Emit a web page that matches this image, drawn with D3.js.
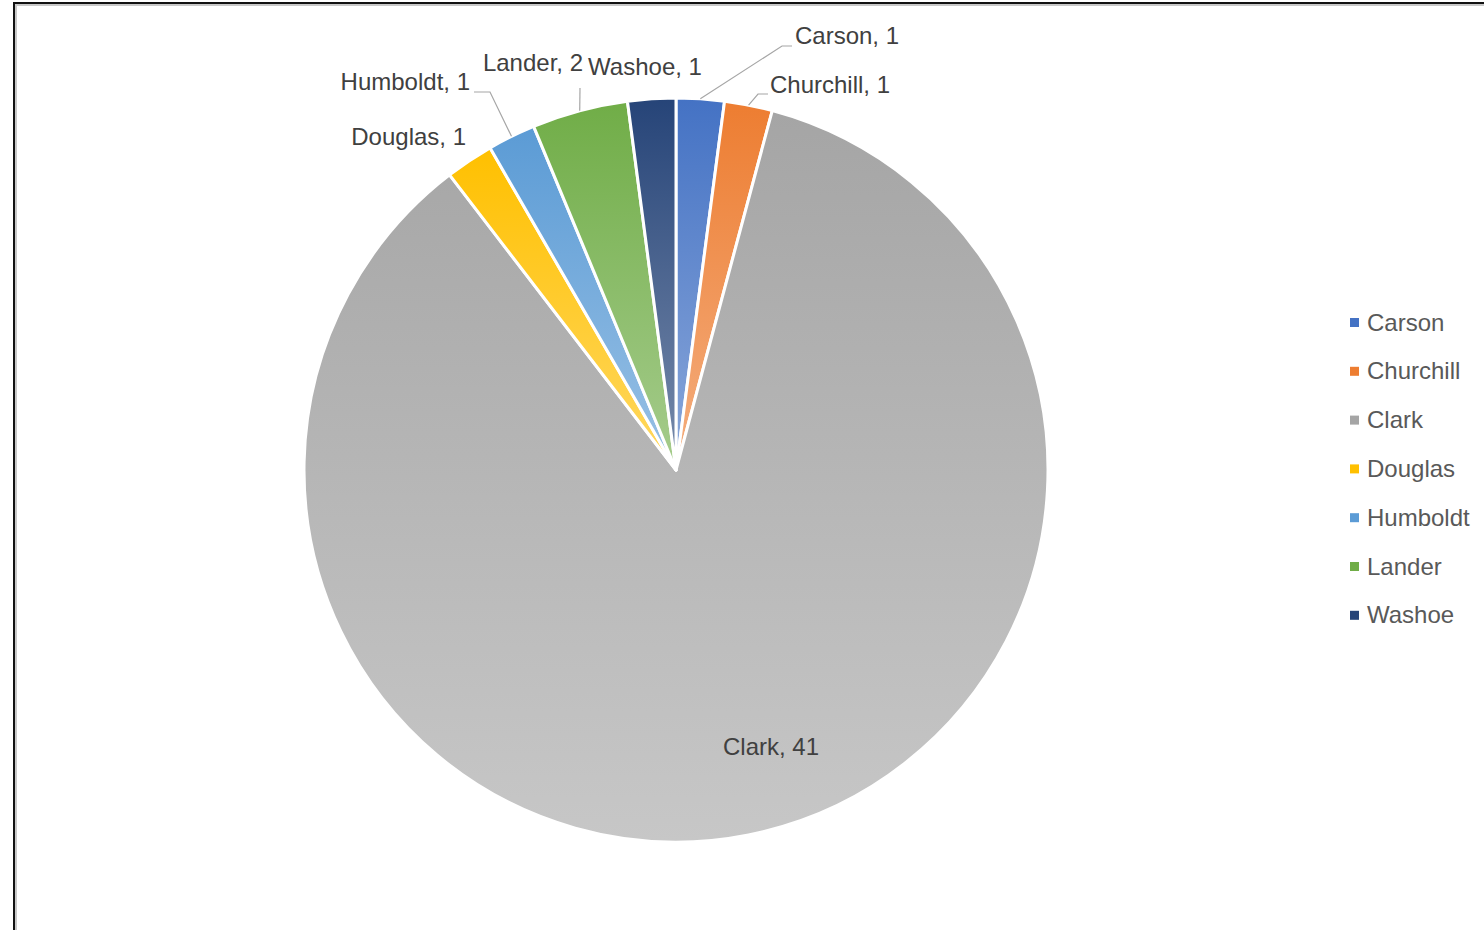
<!DOCTYPE html>
<html>
<head>
<meta charset="utf-8">
<script src="https://cdn.jsdelivr.net/npm/d3@7"></script>
<style>
  html, body { margin: 0; padding: 0; background: #ffffff; }
  svg { display: block; }
  text { font-family: "Liberation Sans", Arial, sans-serif; }
</style>
</head>
<body>
<svg id="chart" width="1484" height="930"></svg>
<script>
// County counts
const counties = ["Carson", "Churchill", "Clark", "Douglas", "Humboldt", "Lander", "Washoe"];
const counts   = [1, 1, 41, 1, 1, 2, 1];
const palette  = ["#4472c4", "#ed7d31", "#a5a5a5", "#ffc000", "#5b9bd5", "#70ad47", "#264478"];

// Label placement relative to the pie centre: offset, anchor, and optional leader-line bends
const labelLayout = {
  Carson:    { dx: 119,  dy: -426, anchor: "start", elbow: [106, -424], end: [116, -424] },
  Churchill: { dx: 94,   dy: -377, anchor: "start", elbow: [82, -376],  end: [92, -376] },
  Clark:     { dx: 95,   dy: 285,  anchor: "middle", elbow: null },
  Douglas:   { dx: -210, dy: -325, anchor: "end",   elbow: null },
  Humboldt:  { dx: -206, dy: -380, anchor: "end",   elbow: [-186, -378], end: [-202, -378] },
  Lander:    { dx: -93,  dy: -399, anchor: "end",   elbow: [-96, -382],  end: [-96, -382] },
  Washoe:    { dx: -31,  dy: -395, anchor: "middle", elbow: null }
};

const svg = d3.select("#chart");
const cx = 676, cy = 470, radius = 372;

// Frame of the chart area
svg.append("path")
  .attr("d", "M1490,5 H16 V935")
  .attr("fill", "none").attr("stroke", "#c8c8c8").attr("stroke-width", 2);
svg.append("path")
  .attr("d", "M1490,3 H14 V935")
  .attr("fill", "none").attr("stroke", "#111111").attr("stroke-width", 2);

const data = counties.map((name, i) => ({ name, value: counts[i], color: palette[i] }));

// Vertical gradient per slice: base colour at top fading to a lighter tint
const defs = svg.append("defs");
data.forEach((d, i) => {
  const g = defs.append("linearGradient")
    .attr("id", "grad" + i)
    .attr("x1", 0).attr("y1", 0).attr("x2", 0).attr("y2", 1);
  g.append("stop").attr("offset", "0%").attr("stop-color", d.color);
  g.append("stop").attr("offset", "100%").attr("stop-color", d3.interpolateRgb(d.color, "#ffffff")(0.38));
});

const pie = d3.pie().value(d => d.value).sort(null);
const arc = d3.arc().innerRadius(0).outerRadius(radius);
const arcs = pie(data);

const g = svg.append("g").attr("transform", `translate(${cx},${cy})`);

g.selectAll("path.slice")
  .data(arcs)
  .join("path")
  .attr("class", "slice")
  .attr("d", arc)
  .attr("fill", (d, i) => `url(#grad${i})`)
  .attr("stroke", "#ffffff")
  .attr("stroke-width", 3)
  .attr("stroke-linejoin", "round");

// Leader lines from the outer edge of a slice to its label
const edgeArc = d3.arc().innerRadius(radius).outerRadius(radius);
arcs.forEach(a => {
  const L = labelLayout[a.data.name];
  if (!L.elbow) return;
  const p0 = edgeArc.centroid(a);
  g.append("polyline")
    .attr("points", [p0, L.elbow, L.end].map(p => p.join(",")).join(" "))
    .attr("fill", "none")
    .attr("stroke", "#a6a6a6")
    .attr("stroke-width", 1.2);
});

// Data labels
g.selectAll("text.dlabel")
  .data(arcs)
  .join("text")
  .attr("class", "dlabel")
  .attr("x", d => labelLayout[d.data.name].dx)
  .attr("y", d => labelLayout[d.data.name].dy)
  .attr("text-anchor", d => labelLayout[d.data.name].anchor)
  .attr("font-size", 24)
  .attr("fill", "#404040")
  .text(d => `${d.data.name}, ${d.data.value}`);

// Legend
const legend = svg.append("g").attr("transform", "translate(1350,322)");
const rows = legend.selectAll("g")
  .data(data)
  .join("g")
  .attr("transform", (d, i) => `translate(0,${i * 48.8})`);
rows.append("rect")
  .attr("x", 0).attr("y", -4).attr("width", 9).attr("height", 9)
  .attr("fill", d => d.color);
rows.append("text")
  .attr("x", 17).attr("y", 8.5)
  .attr("font-size", 24)
  .attr("fill", "#595959")
  .text(d => d.name);
</script>
</body>
</html>
